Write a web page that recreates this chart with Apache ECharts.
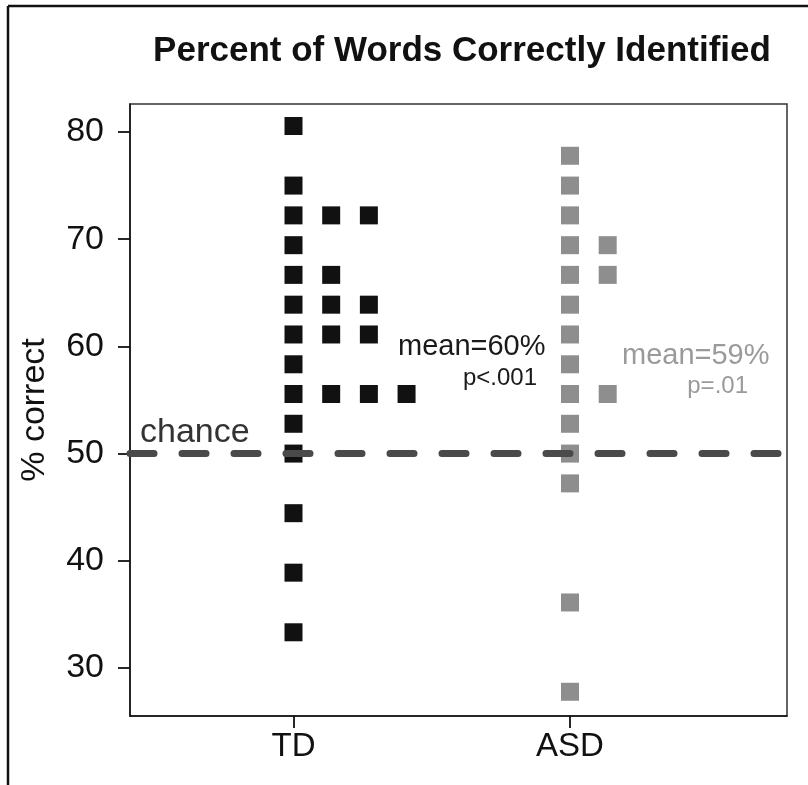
<!DOCTYPE html>
<html>
<head>
<meta charset="utf-8">
<script src="https://cdn.jsdelivr.net/npm/echarts@6/dist/echarts.min.js"></script>
<style>
html,body{margin:0;padding:0;background:#fff;}
#chart{width:808px;height:785px;}
</style>
</head>
<body>
<div id="chart"></div>
<script>
// ---- data ----
const groups = ['TD', 'ASD'];
const tdValues = [80.56, 75.00, 72.22, 72.22, 72.22, 69.44, 66.67, 66.67, 63.89, 63.89, 63.89,
  61.11, 61.11, 61.11, 58.33, 55.56, 55.56, 55.56, 55.56, 52.78, 50.00, 44.44, 38.89, 33.33];
const asdValues = [77.78, 75.00, 72.22, 69.44, 69.44, 66.67, 66.67, 63.89, 61.11, 58.33,
  55.56, 55.56, 52.78, 50.00, 47.22, 36.11, 27.78];
const yTicks = [30, 40, 50, 60, 70, 80];
const chanceLevel = 50;
const titleText = 'Percent of Words Correctly Identified';
const yName = '% correct';
const tdNote = ['mean=60%', 'p<.001'];
const asdNote = ['mean=59%', 'p=.01'];
const chanceText = 'chance';

// ---- layout ----
const FONT = "'Liberation Sans', Arial, Helvetica, sans-serif";
const COL_STEP = 0.1363; // horizontal offset between stacked dots (axis units)

function stack(values, groupIndex) {
  const counts = {};
  return values.map(v => {
    const k = v.toFixed(2);
    const c = counts[k] || 0;
    counts[k] = c + 1;
    return [groupIndex + 1 + c * COL_STEP, v];
  });
}

const chart = echarts.init(document.getElementById('chart'), null, {renderer: 'canvas'});

const option = {
  animation: false,
  backgroundColor: '#fff',
  grid: {
    left: 130, right: 21, top: 104, bottom: 69,
    show: true, borderColor: '#333', borderWidth: 1.5, containLabel: false
  },
  xAxis: {
    type: 'value',
    min: 0.4087, max: 2.7848,
    axisLine: {show: true, lineStyle: {color: '#111', width: 1.5}},
    axisTick: {show: true, length: 12, lineStyle: {color: '#111', width: 1.8}, customValues: [1, 2]},
    axisLabel: {
      customValues: [1, 2],
      formatter: v => groups[Math.round(v) - 1] || '',
      fontFamily: FONT, fontSize: 33, color: '#111', margin: 14
    },
    splitLine: {show: false}
  },
  yAxis: {
    type: 'value',
    min: 25.52, max: 82.61,
    name: yName,
    nameLocation: 'middle',
    nameRotate: 90,
    nameGap: 78,
    nameTextStyle: {fontFamily: FONT, fontSize: 34, color: '#111'},
    axisLine: {show: true, lineStyle: {color: '#111', width: 1.5}},
    axisTick: {show: true, length: 12, lineStyle: {color: '#111', width: 1.8}, customValues: yTicks},
    axisLabel: {customValues: yTicks, fontFamily: FONT, fontSize: 34, color: '#111', margin: 26},
    splitLine: {show: false}
  },
  series: [
    {
      name: groups[0], type: 'scatter', symbol: 'rect', symbolSize: 18,
      itemStyle: {color: '#111111', opacity: 1},
      data: stack(tdValues, 0), z: 2
    },
    {
      name: groups[1], type: 'scatter', symbol: 'rect', symbolSize: 18,
      itemStyle: {color: '#8e8e8e', opacity: 1},
      data: stack(asdValues, 1), z: 2
    },
    {
      name: 'chance', type: 'line', data: [], z: 5,
      markLine: {
        silent: true, symbol: 'none', animation: false,
        label: {show: false},
        lineStyle: {color: '#4a4a4a', width: 7, type: [24, 28], cap: 'round', opacity: 1},
        data: [{yAxis: chanceLevel}]
      }
    }
  ],
  graphic: [
    {type: 'line', shape: {x1: 8, y1: 6, x2: 808, y2: 6}, style: {stroke: '#111', lineWidth: 2.5}},
    {type: 'line', shape: {x1: 8, y1: 6, x2: 8, y2: 785}, style: {stroke: '#111', lineWidth: 2.5}},
    {type: 'text', x: 462, y: 51, style: {text: titleText, font: 'bold 35px ' + FONT, fill: '#111', textAlign: 'center', textVerticalAlign: 'middle'}},
    {type: 'text', x: 398, y: 347, z: 10, style: {text: tdNote[0], font: '29px ' + FONT, fill: '#1a1a1a', textAlign: 'left', textVerticalAlign: 'middle'}},
    {type: 'text', x: 537, y: 378, z: 10, style: {text: tdNote[1], font: '24px ' + FONT, fill: '#1a1a1a', textAlign: 'right', textVerticalAlign: 'middle'}},
    {type: 'text', x: 622, y: 356, z: 10, style: {text: asdNote[0], font: '29px ' + FONT, fill: '#9a9a9a', textAlign: 'left', textVerticalAlign: 'middle'}},
    {type: 'text', x: 748, y: 386, z: 10, style: {text: asdNote[1], font: '24px ' + FONT, fill: '#9a9a9a', textAlign: 'right', textVerticalAlign: 'middle'}},
    {type: 'text', x: 140, y: 433, z: 10, style: {text: chanceText, font: '34px ' + FONT, fill: '#333', textAlign: 'left', textVerticalAlign: 'middle'}}
  ]
};
chart.setOption(option);
</script>
</body>
</html>
